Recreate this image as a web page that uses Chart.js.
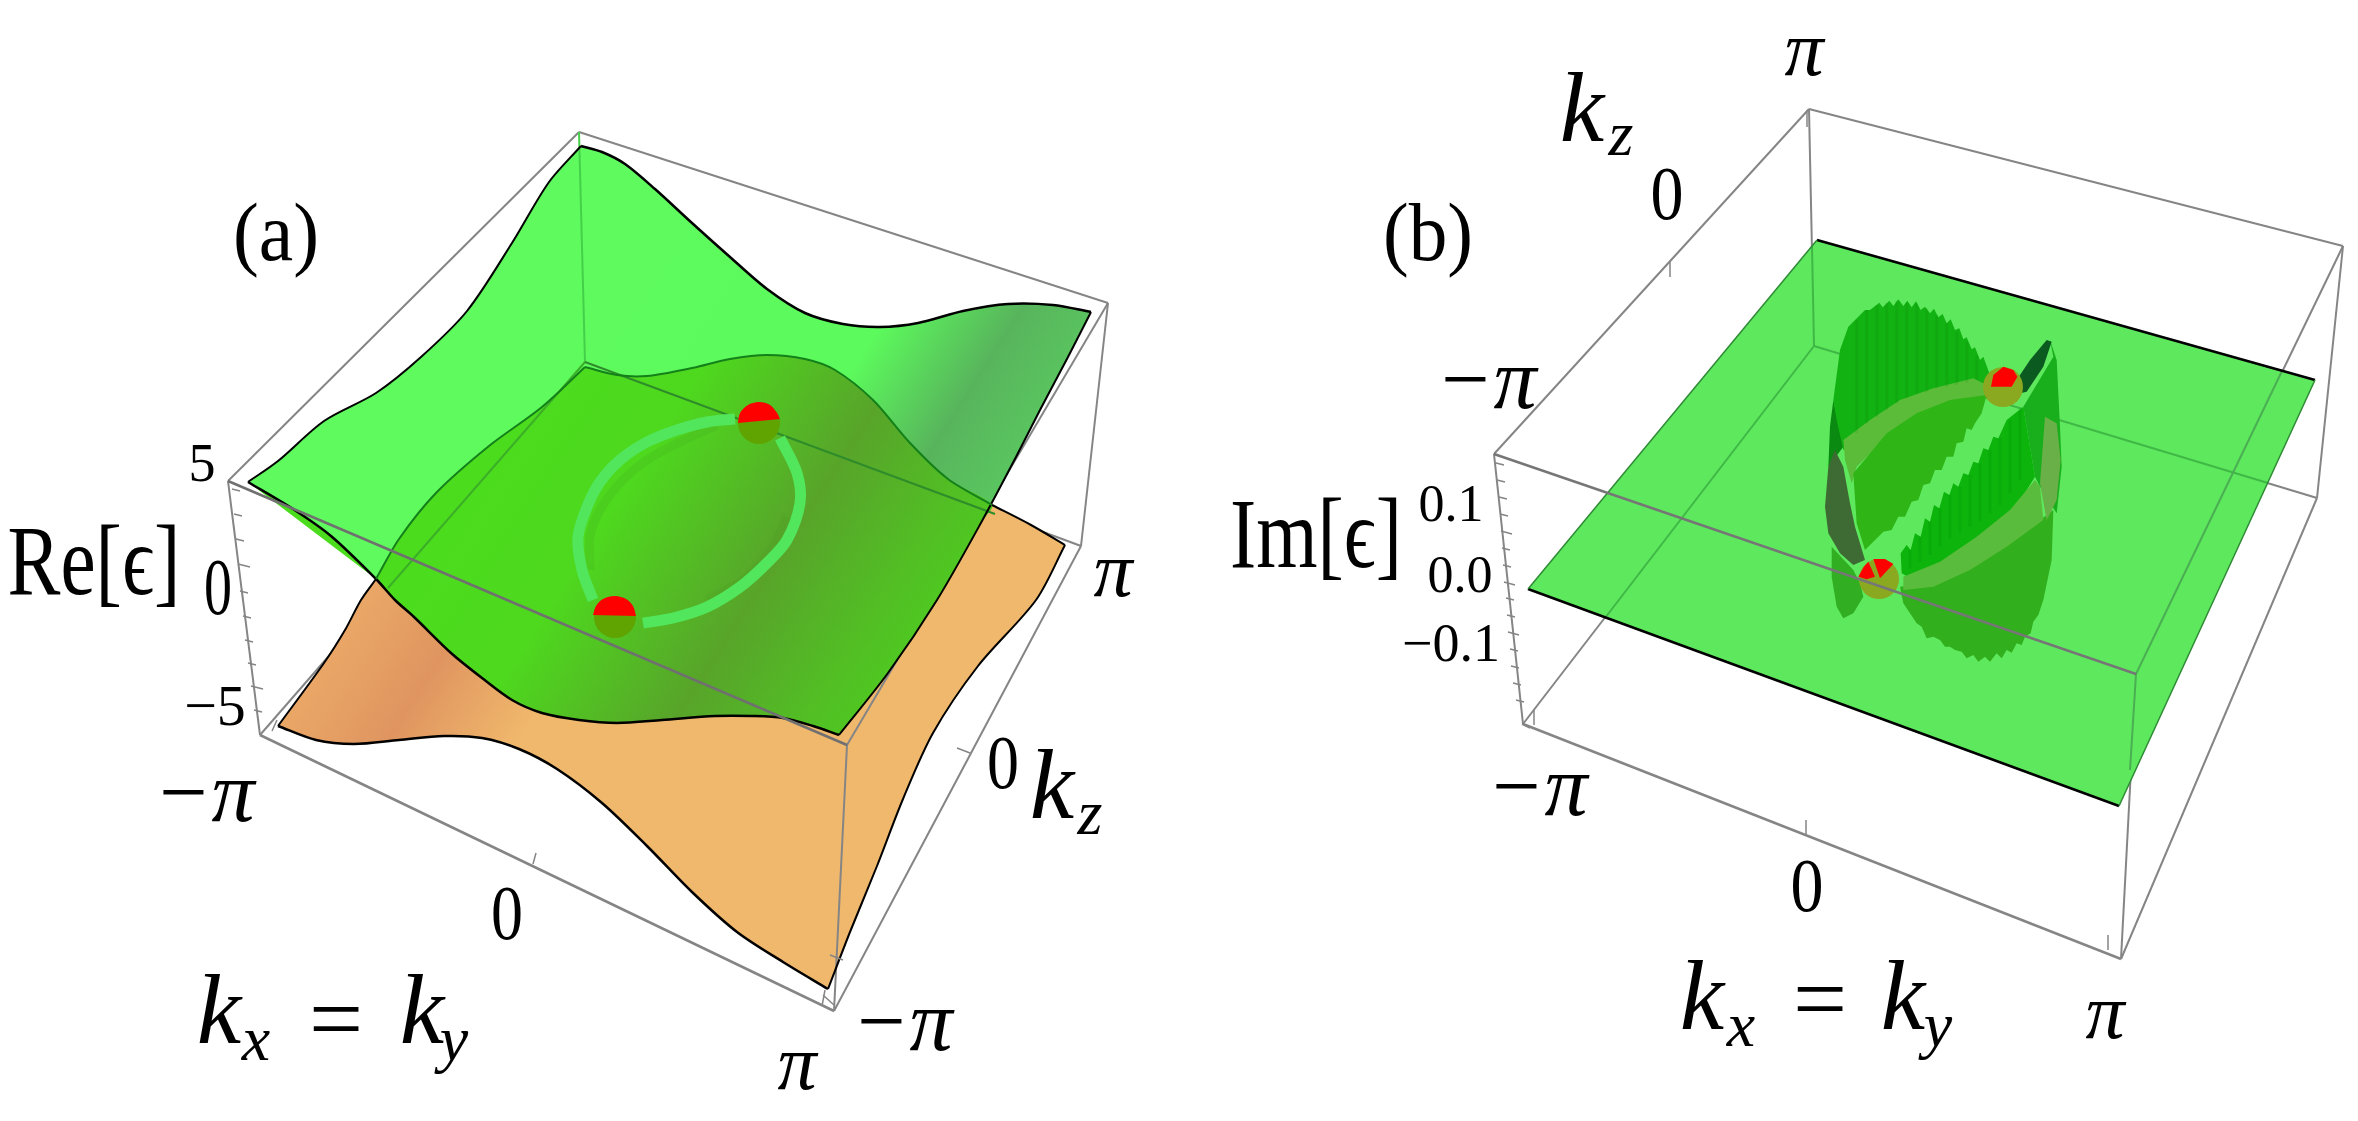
<!DOCTYPE html>
<html>
<head>
<meta charset="utf-8">
<script src="https://cdn.jsdelivr.net/npm/chart.js"></script>
<style>
  body { margin: 0; background: #fff; }
  canvas { display: block; }
</style>
</head>
<body>
<canvas id="myChart" width="2358" height="1121"></canvas>
<script>

// panel (a) box corners: top face, then bottom face
const boxA = { a: [579,132], b: [1108,303], c: [847,745], d: [228,481], a2: [585,362], b2: [1081,546], c2: [834,1011], d2: [260,735] };
const boxB = { a: [1809,109], b: [2343,246], c: [2136,674], d: [1494,454], a2: [1814,346], b2: [2317,498], c2: [2121,959], d2: [1523,724] };

// where box edges leave the surfaces (they show through up to here)
const throughA = { left: [388,588], right: [995,514] };
const throughB = { top: [1812,246], left: [1605,618], right: [2268,483], back: [2282,371], front: [2130,770] };

// panel (a) upper surface edges
const upperBack = [581,146, 602,152, 625,164, 655,189, 692,223, 730,257, 767,289, 805,313, 843,324, 880,327, 918,323, 963,311, 1008,304, 1053,305, 1091,312];
const upperRight = [1091,312, 1068,357, 1040,410, 1016,457, 982,521, 937,600, 888,673, 839,735];
const upperFront = [839,735, 813,726, 783,718, 752,716, 715,716, 662,720, 617,723, 579,720, 542,713, 512,700, 482,678, 451,653, 414,617, 395,600, 376,579, 331,536, 293,509, 248,482];
const upperLeft = [248,482, 278,461, 324,421, 376,393, 421,357, 467,311, 512,243, 549,182, 581,146];

// panel (a) lower surface edges
const lowerBack = [585,367, 617,375, 647,376, 692,368, 730,359, 767,355, 805,359, 835,370, 873,400, 910,443, 948,479, 992,505, 1031,525, 1065,545];
const lowerRight = [1065,545, 1036,600, 978,666, 933,733, 903,799, 877,866, 850,932, 828,989];
const lowerFront = [828,989, 783,962, 737,932, 692,892, 647,846, 602,803, 557,769, 519,749, 482,738, 444,736, 399,740, 354,744, 316,740, 278,726];
const lowerLeft = [278,726, 324,663, 345,630, 361,600, 376,579, 399,539, 436,493, 489,446, 542,407, 585,367];

// exceptional ring on the surface in (a)
const ringUpper = [593,600, 582,570, 578,537, 587,507, 600,482, 620,460, 647,442, 677,430, 707,422, 735,419];
const ringLower = [780,438, 797,473, 800,503, 787,540, 767,563, 740,587, 707,607, 673,618, 643,623];
const ringShadeUpper = [590,570, 590,537, 600,510, 620,483, 647,460, 680,442, 717,425];
const ringShadeLower = [787,517, 773,547, 747,577, 707,600];

// exceptional points: x, y
const pointsA = [[759,423],[615,617]];
const pointsB = [[2003,387],[1879,579]];
const capA1 = [738,423, 740,413, 748,405, 759,402, 770,405, 777,413, 780,419];
const capA2 = [593,615, 596,606, 603,599, 615,596, 626,599, 633,606, 636,616];

// panel (b) flat sheet
const planeB = [1817,240, 2315,380, 2119,806, 1528,589];

// panel (b) sheets around the ring, in a 3x crop with origin 1790,260
const blobLeftDark = [130,420, 160,560, 130,600, 115,620, 120,500];
const blobTop = [130,420, 150,270, 175,200, 225,150, 240,150, 268,128, 278,142, 298,122, 310,138, 325,118, 340,138, 352,122, 365,142, 378,124, 392,150, 405,140, 420,160, 432,146, 445,172, 458,162, 470,190, 482,178, 495,210, 508,205, 520,238, 530,232, 545,268, 555,262, 570,300, 580,290, 600,345, 590,380, 480,400, 380,430, 300,480, 220,530, 160,570, 140,480];
const blobBandUpper = [160,540, 240,480, 330,420, 430,385, 550,355, 590,375, 585,420, 480,435, 380,470, 290,530, 200,620, 185,670, 165,600];
const blobLeafUpper = [190,640, 290,520, 380,460, 480,420, 590,405, 575,460, 555,490, 545,510, 530,505, 520,545, 500,550, 490,590, 470,590, 455,630, 435,630, 420,670, 400,675, 385,720, 365,725, 345,770, 325,770, 305,810, 280,815, 225,870, 200,790];
const blobLeafLower = [335,940, 332,880, 350,855, 362,870, 375,820, 392,830, 405,775, 420,785, 432,735, 448,745, 462,695, 478,705, 490,670, 505,680, 520,640, 535,645, 550,605, 565,610, 580,565, 595,570, 610,530, 625,535, 650,480, 700,440, 720,560, 735,650, 660,770, 560,850, 450,920, 370,960];
const blobBandLower = [340,950, 450,905, 560,830, 660,750, 735,660, 750,680, 760,780, 650,860, 540,930, 430,980, 340,990];
const blobBottom = [330,980, 430,970, 540,920, 660,850, 770,765, 790,750, 785,900, 760,1020, 745,1065, 730,1085, 722,1120, 705,1130, 695,1155, 680,1150, 665,1178, 650,1170, 635,1195, 620,1180, 600,1205, 585,1190, 565,1205, 550,1185, 530,1195, 515,1175, 495,1170, 480,1160, 465,1160, 450,1140, 430,1130, 410,1135, 395,1100, 380,1090, 340,1030];
const blobRight = [700,440, 790,290, 780,240, 800,300, 810,500, 815,620, 800,760, 750,680, 735,650, 720,560];
const blobRightPatch = [765,470, 800,490, 812,600, 800,720, 770,780, 750,670];
const blobTip = [680,360, 720,300, 770,240, 785,245, 760,320, 710,395, 690,400];
const blobLeftGrey = [105,740, 115,620, 135,570, 160,620, 180,730, 195,800, 225,900, 190,915, 150,880, 115,820];
const blobLowerLeft = [125,860, 190,930, 210,970, 220,1010, 190,1060, 160,1075, 140,1040, 125,950];
const capB1 = [603,380, 610,345, 640,320, 670,330, 682,350, 665,380];
const capB2a = [205,950, 222,920, 235,905, 255,950, 230,958];
const capB2b = [250,897, 285,897, 310,912, 270,955];

// vertical facets on the sheets in (b), same crop: start x,y then end x,y
const stripesTop = [200,180,200,520, 230,150,230,490, 260,135,260,470, 290,128,290,450, 320,122,320,430, 350,128,350,415, 380,130,380,400, 410,145,410,395, 440,165,440,385, 470,190,470,380, 500,215,500,375, 530,245,530,368, 560,285,560,360];
const stripesLeaf = [360,870,360,925, 390,830,390,905, 420,785,420,885, 450,745,450,860, 480,705,480,835, 510,680,510,815, 540,645,540,800, 570,610,570,785, 600,570,600,760, 630,535,630,735, 660,480,660,700, 690,445,690,660];

// axis ticks: start x,y then end x,y
const ticksA = [232,489,240,491, 234,514,242,516, 236,539,244,541, 238,564,250,567, 240,591,248,593, 243,616,251,618, 245,640,253,642, 248,663,256,665, 251,686,263,689, 254,710,262,712,
  533,864,536,853, 970,753,957,748, 272,731,277,720, 822,1006,825,990, 834,1005,823,995, 830,955,843,960];
const ticksB = [1496,463,1504,465, 1497,480,1505,482, 1499,497,1507,499, 1500,514,1508,516, 1501,531,1512,534, 1502,548,1510,550, 1503,565,1511,567, 1504,582,1515,585, 1506,598,1514,600, 1507,615,1515,617, 1508,632,1519,635, 1510,649,1518,651, 1511,666,1519,668, 1513,683,1521,685, 1516,700,1524,702,
  1807,110,1807,127, 1670,262,1670,277, 1806,834,1806,820, 1534,725,1534,710, 2108,950,2108,935, 1530,728,1522,724];

// text: string, x, y, size, italic, widest allowed
const labels = [
  ['(a)', 276, 238, 82, 0, 86], ['Re[ϵ]', 94, 568, 100, 0, 173],
  ['5', 202, 467, 54, 0], ['0', 218, 593, 80, 0, 28], ['−5', 215, 710, 58, 0],
  ['−π', 204, 798, 86, 1], ['0', 507, 919, 78, 0, 32], ['π', 797, 1068, 78, 1],
  ['−π', 902, 1027, 86, 1], ['0', 1003, 768, 76, 0, 32], ['π', 1113, 575, 78, 1],
  ['k', 1052, 792, 100, 1], ['z', 1090, 817, 64, 1],
  ['k', 219, 1017, 100, 1], ['x', 256, 1043, 64, 1], ['=', 336, 1026, 96, 0], ['k', 422, 1017, 100, 1], ['y', 454, 1043, 64, 1],
  ['(b)', 1428, 238, 82, 0, 90], ['Im[ϵ]', 1316, 541, 100, 0, 172],
  ['0.1', 1451, 507, 52, 0], ['0.0', 1460, 578, 52, 0], ['−0.1', 1451, 647, 54, 0],
  ['π', 1804, 54, 78, 1], ['k', 1582, 115, 100, 1], ['z', 1621, 138, 64, 1], ['0', 1667, 199, 76, 0, 33], ['−π', 1486, 385, 86, 1],
  ['−π', 1537, 792, 86, 1], ['0', 1807, 891, 76, 0, 33], ['π', 2105, 1017, 78, 1],
  ['k', 1702, 1003, 100, 1], ['x', 1741, 1029, 64, 1], ['=', 1820, 1006, 96, 0], ['k', 1903, 1003, 100, 1], ['y', 1938, 1029, 64, 1]
];

const pts = (a) => {
  const out = [];
  for (let i = 0; i < a.length; i += 2) out.push({x: a[i], y: a[i + 1]});
  return out;
};
const blobPts = (a) => pts(a).map(p => ({x: 1790 + p.x / 3, y: 260 + p.y / 3}));
const seg = (p, q) => [{x: p[0], y: p[1]}, {x: q[0], y: q[1]}];

function tickPts(a) {
  const out = [];
  for (let i = 0; i < a.length; i += 4) {
    out.push({x: a[i], y: a[i + 1]}, {x: a[i + 2], y: a[i + 3]}, {x: NaN, y: NaN});
  }
  return out;
}
const stripePts = (a) => tickPts(a).map(p => ({x: 1790 + p.x / 3, y: 260 + p.y / 3}));

// shading runs across the surface along this direction
function shade(stops, x0, y0, x1, y1) {
  return (ctx) => {
    const {x, y} = ctx.chart.scales;
    const px0 = x.getPixelForValue(x0);
    const py0 = y.getPixelForValue(y0);
    // scales are not laid out yet on the first pass
    if (!Number.isFinite(px0) || !Number.isFinite(py0)) return stops[0][1];
    const g = ctx.chart.ctx.createLinearGradient(px0, py0, x.getPixelForValue(x1), y.getPixelForValue(y1));
    stops.forEach(s => g.addColorStop(s[0], s[1]));
    return g;
  };
}

const datasets = [];
function line(data, color, width, tension) {
  datasets.push({data, borderColor: color, borderWidth: width || 2, tension: tension || 0, fill: false, spanGaps: false});
}
function poly(data, color, tension) {
  datasets.push({data, backgroundColor: color, borderWidth: 0, borderColor: 'transparent', tension: tension || 0, fill: 'shape'});
}
function dots(list, color, radius) {
  datasets.push({data: list.map(p => ({x: p[0], y: p[1]})), showLine: false, pointRadius: radius, pointBackgroundColor: color, pointBorderWidth: 0});
}

const GREY = '#858585';

// ---- panel (a) ----
line(seg(boxA.a, boxA.b), GREY);
line(seg(boxA.a, boxA.d), GREY);
line(seg(boxA.b, boxA.b2), GREY);
line(seg(boxA.d, boxA.d2), GREY);
line(seg(boxA.a2, boxA.d2), GREY);
line(seg(boxA.a2, boxA.b2), GREY);
line(seg(boxA.b2, boxA.c2), GREY);
line(seg(boxA.c2, boxA.d2), GREY, 2.5);

poly(pts([...lowerBack, ...lowerRight, ...lowerFront, ...lowerLeft]), shade([[0,'#EFB26A'],[.32,'#E09560'],[.54,'#F0B86C'],[1,'#F0B86C']], 516,246, 936,516), .3);
line(seg(boxA.c, boxA.c2), GREY);
line(seg(boxA.b, boxA.c), GREY);
poly(pts([...upperBack, ...upperRight, ...upperFront, ...upperLeft]), shade([[0,'#5EFA5E'],[.5,'#5CFA5C'],[.72,'#58B45C'],[.9,'#5AC860'],[1,'#5CD060']], 600,300, 1020,570), .3);
poly(pts([...lowerLeft.slice(8), ...lowerBack.slice(0, 24), ...upperRight.slice(8), ...upperFront]), shade([[0,'#4CDC1E'],[.25,'#4ED81E'],[.58,'#58A42A'],[.8,'#52BE24'],[1,'#4CD21E']], 600,300, 1020,570), .3);

line(seg(boxA.a, boxA.a2), '#45D04A');
line(seg(boxA.a2, throughA.left), '#3BB027');
line(seg(boxA.a2, throughA.right), '#2F8C2A');

line(pts(ringShadeUpper), 'rgba(60,140,30,.12)', 9, .3);
line(pts(ringShadeLower), 'rgba(60,140,30,.1)', 9, .3);
line(pts(ringUpper), '#52E65C', 11, .3);
line(pts(ringLower), '#52E65C', 11, .3);

dots(pointsA, '#5FA400', 21);
poly(pts(capA1), '#FF0000', .3);
poly(pts(capA2), '#FF0000', .3);

line(pts(upperBack), '#000', 2.5, .3);
line(pts(upperRight), '#000', 2, .3);
line(pts(upperFront), '#000', 2.5, .3);
line(pts(upperLeft), '#000', 2, .3);
line(pts(lowerBack.slice(0, 24)), '#14801A', 2, .3);
line(pts(lowerLeft.slice(8)), '#14801A', 2, .3);
line(pts(lowerBack.slice(22)), '#000', 2, .3);
line(pts(lowerRight), '#000', 2, .3);
line(pts(lowerFront), '#000', 2.5, .3);
line(pts(lowerLeft.slice(0, 10)), '#000', 2, .3);
line(seg(boxA.d, boxA.c), '#707070', 2.5);
line(tickPts(ticksA), GREY, 1.5);

// ---- panel (b) ----
line(seg(boxB.a, boxB.b), GREY);
line(seg(boxB.a, boxB.d), GREY);
line(seg(boxB.a, boxB.a2), GREY);
line(seg(boxB.b, boxB.b2), GREY);
line(seg(boxB.d, boxB.d2), GREY);
line(seg(boxB.a2, boxB.d2), GREY);
line(seg(boxB.a2, boxB.b2), GREY);
line(seg(boxB.b, boxB.c), GREY);
line(seg(boxB.c, boxB.c2), GREY);
line(seg(boxB.b2, boxB.c2), GREY);
line(seg(boxB.c2, boxB.d2), GREY, 2.5);

poly(pts(planeB), '#5EE85E');
line(seg(throughB.top, boxB.a2), '#3FB845');
line(seg(boxB.a2, throughB.left), '#3FB845');
line(seg(boxB.a2, throughB.right), '#3FB845');
line(seg(throughB.back, boxB.c), '#4AAE52');
line(seg(boxB.c, throughB.front), '#4AAE52');

poly(blobPts(blobLeftDark), '#0A8A10');
poly(blobPts(blobTop), '#12B212');
poly(blobPts(blobLeftGrey), '#3E6B34');
poly(blobPts(blobLowerLeft), '#32AE22');
poly(blobPts(blobBottom), '#32AF1C');
poly(blobPts(blobRight), '#18AE1C');
poly(blobPts(blobRightPatch), '#6AB048');
poly(blobPts(blobLeafLower), '#0CB40C');
poly(blobPts(blobBandLower), '#5ABC3C');
poly(blobPts(blobBandUpper), '#5ABC38');
poly(blobPts(blobLeafUpper), '#2FB516');
line(stripePts(stripesTop), 'rgba(0,110,0,.1)', 3);
line(stripePts(stripesLeaf), 'rgba(0,110,0,.1)', 3);
poly(blobPts(blobTip), '#0B5A20');
dots(pointsB, '#8AA820', 20);
poly(blobPts(capB1), '#FF0000');
poly(blobPts(capB2a), '#FF0000');
poly(blobPts(capB2b), '#FF0000');

line(pts([...planeB.slice(0, 4)]), '#000', 2.5);
line(pts([...planeB.slice(4)]), '#000', 2.5);
line(pts([planeB[0], planeB[1], planeB[6], planeB[7]]), '#2E8A34', 1.5);
line(pts([planeB[2], planeB[3], planeB[4], planeB[5]]), '#2E8A34', 1.5);
line(seg(boxB.d, boxB.c), '#767676', 2.5);
line(tickPts(ticksB), GREY, 1.5);

// later entries go on top
datasets.forEach((d, i) => { d.order = -i; d.pointRadius = d.pointRadius || 0; if (d.showLine === undefined) d.showLine = true; });

const textPlugin = {
  id: 'texts',
  afterDatasetsDraw(chart) {
    const c = chart.ctx;
    c.save();
    c.fillStyle = '#000';
    c.textAlign = 'center';
    c.textBaseline = 'middle';
    labels.forEach(l => {
      c.font = (l[4] ? 'italic ' : '') + l[3] + 'px "Liberation Serif"';
      const px = chart.scales.x.getPixelForValue(l[1]);
      const py = chart.scales.y.getPixelForValue(l[2]);
      if (l[5]) c.fillText(l[0], px, py, l[5]);
      else c.fillText(l[0], px, py);
    });
    c.restore();
  }
};

const myChart = new Chart(document.getElementById('myChart'), {
  type: 'scatter',
  data: {datasets},
  options: {
    responsive: false,
    animation: false,
    events: [],
    layout: {padding: 0, autoPadding: false},
    plugins: {legend: {display: false}, tooltip: {enabled: false}},
    scales: {
      x: {type: 'linear', min: 0, max: 2358, display: false},
      y: {type: 'linear', min: 0, max: 1121, reverse: true, display: false}
    }
  },
  plugins: [textPlugin]
});
</script>
</body>
</html>
